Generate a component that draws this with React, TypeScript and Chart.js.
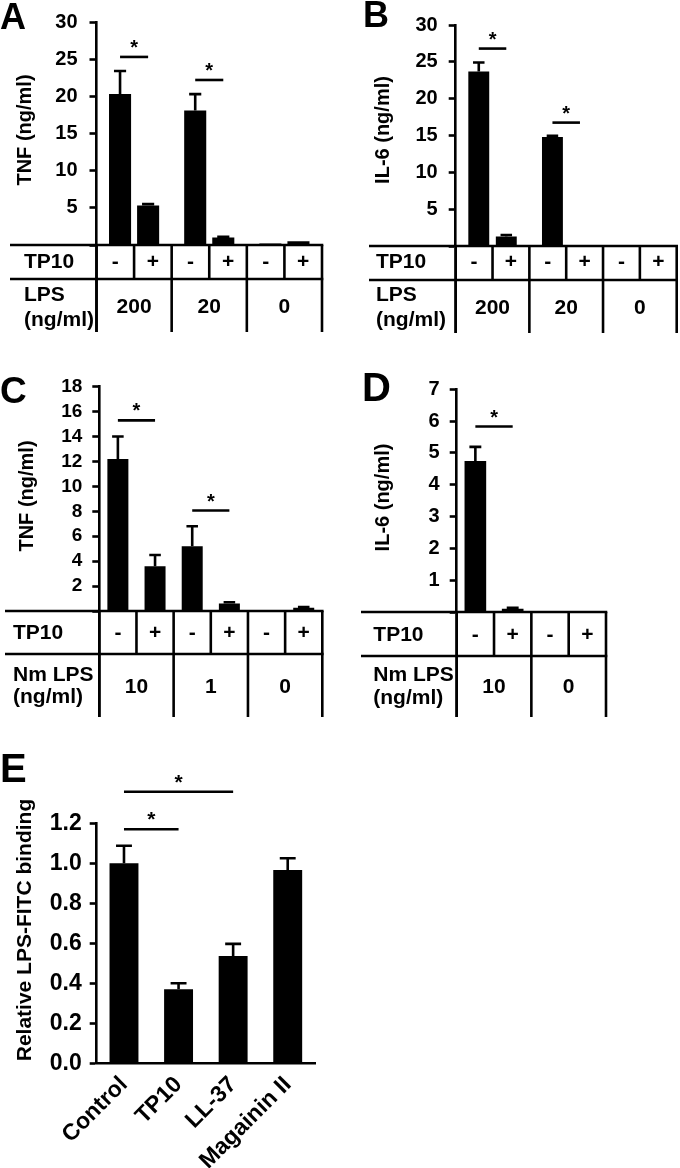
import React, { useEffect, useRef } from 'react';
import { Chart, registerables } from 'chart.js';

Chart.register(...registerables);

const FONT = '"Liberation Sans", Arial, Helvetica, sans-serif';
const LW = 2.6;
const TABLE_FONT = 21;
const bold = (size: number) => `bold ${size}px ${FONT}`;

// ---------------- Panel A: TNF (ng/ml), LPS 200/20/0 ----------------
const aLpsDoses = ['200', '20', '0'];
const aTNFMinusTP10 = [20.3, 18.1, 0.2];
const aTNFPlusTP10 = [5.3, 1.0, 0.5];
const aTNFMinusErr = [23.4, 20.3, null];
const aTNFPlusErr = [5.5, 1.1, null];
const aYTicks = { max: 30, step: 5 };

// ---------------- Panel B: IL-6 (ng/ml), LPS 200/20/0 ----------------
const bLpsDoses = ['200', '20', '0'];
const bIL6MinusTP10 = [23.7, 14.8, 0.05];
const bIL6PlusTP10 = [1.3, 0.1, 0.05];
const bIL6MinusErr = [24.9, 14.95, null];
const bIL6PlusErr = [1.5, null, null];
const bYTicks = { max: 30, step: 5 };

// ---------------- Panel C: TNF (ng/ml), Nm LPS 10/1/0 ----------------
const cConditions = ['10 -', '10 +', '1 -', '1 +', '0 -', '0 +'];
const cTP10Signs = ['-', '+', '-', '+', '-', '+'];
const cNmLpsDoses = ['10', '1', '0'];
const cTNF = [12.2, 3.6, 5.2, 0.6, 0.05, 0.27];
const cTNFErr = [14.0, 4.5, 6.8, 0.7, null, 0.32];
const cYTicks = { max: 18, step: 2 };

// ---------------- Panel D: IL-6 (ng/ml), Nm LPS 10/0 ----------------
const dConditions = ['10 -', '10 +', '0 -', '0 +'];
const dTP10Signs = ['-', '+', '-', '+'];
const dNmLpsDoses = ['10', '0'];
const dIL6 = [4.75, 0.1, 0, 0];
const dIL6Err = [5.19, 0.13, null, null];
const dYTicks = { max: 7, step: 1 };

// ---------------- Panel E: Relative LPS-FITC binding ----------------
const ePeptides = ['Control', 'TP10', 'LL-37', 'Magainin II'];
const eBinding = [1.0, 0.37, 0.537, 0.967];
const eBindingErr = [1.088, 0.4, 0.597, 1.025];
const eYTicks = { max: 1.2, step: 0.2 };

type Area = { L: number; R: number; T: number; B: number };
type Sig = { a: [number, number]; b: [number, number]; y: number };
type TextPos = { text: string; v: number };
type Table = {
  left: number; row1Bottom: number; bottom: number;
  full: number[]; inner: number[];
  signs: TextPos[]; signY: number;
  groups: TextPos[]; groupY: number;
  rowLabelX: number; rows: { text: string; y: number }[];
};
type Spec = {
  key: string; x: number; y: number; w: number; h: number;
  area: Area;
  labels: string[];
  datasets: { data: number[]; err: (number | null)[] }[];
  catPct: number; barPct: number;
  yMax: number; yStep: number; hideZero: boolean; decimals: number;
  tickSize: number; tickPad: number;
  letter: { text: string; x: number; y: number; size: number };
  yTitle: { text: string; x: number; y: number; size: number };
  sigs: Sig[]; starSize: number;
  table?: Table;
  xTicks?: { size: number; padding: number };
  capRatio: number;
};

const pairSigns = (groups: string[]): TextPos[] =>
  groups.flatMap((_, g) => [{ text: '-', v: g - 0.25 }, { text: '+', v: g + 0.25 }]);

const specs: Spec[] = [
  {
    key: 'A', x: 0, y: 0, w: 340, h: 340,
    area: { L: 96.5, R: 322, T: 22, B: 245 },
    labels: aLpsDoses,
    datasets: [
      { data: aTNFMinusTP10, err: aTNFMinusErr },
      { data: aTNFPlusTP10, err: aTNFPlusErr },
    ],
    catPct: 0.747, barPct: 0.786,
    yMax: aYTicks.max, yStep: aYTicks.step, hideZero: true, decimals: 0,
    tickSize: 20, tickPad: 12,
    letter: { text: 'A', x: 0, y: 29, size: 36 },
    yTitle: { text: 'TNF (ng/ml)', x: 25, y: 130, size: 20 },
    sigs: [{ a: [0, 0], b: [1, 0], y: 25.3 }, { a: [0, 1], b: [1, 1], y: 22.2 }],
    starSize: 20,
    table: {
      left: 10, row1Bottom: 279, bottom: 332,
      full: [-0.5, 0.5, 1.5, 2.5], inner: [0, 1, 2],
      signs: pairSigns(aLpsDoses), signY: 262,
      groups: aLpsDoses.map((d, g) => ({ text: d, v: g })), groupY: 307.5,
      rowLabelX: 24,
      rows: [{ text: 'TP10', y: 262 }, { text: 'LPS', y: 295 }, { text: '(ng/ml)', y: 320 }],
    },
    capRatio: 0.55,
  },
  {
    key: 'B', x: 340, y: 0, w: 340, h: 340,
    area: { L: 115.7, R: 336.7, T: 25, B: 246 },
    labels: bLpsDoses,
    datasets: [
      { data: bIL6MinusTP10, err: bIL6MinusErr },
      { data: bIL6PlusTP10, err: bIL6PlusErr },
    ],
    catPct: 0.747, barPct: 0.76,
    yMax: bYTicks.max, yStep: bYTicks.step, hideZero: true, decimals: 0,
    tickSize: 20, tickPad: 11,
    letter: { text: 'B', x: 23, y: 27, size: 36 },
    yTitle: { text: 'IL-6 (ng/ml)', x: 43, y: 130, size: 20 },
    sigs: [{ a: [0, 0], b: [1, 0], y: 26.8 }, { a: [0, 1], b: [1, 1], y: 16.75 }],
    starSize: 20,
    table: {
      left: 29, row1Bottom: 280, bottom: 333,
      full: [-0.5, 0.5, 1.5, 2.5], inner: [0, 1, 2],
      signs: pairSigns(bLpsDoses), signY: 262,
      groups: bLpsDoses.map((d, g) => ({ text: d, v: g })), groupY: 308,
      rowLabelX: 36,
      rows: [{ text: 'TP10', y: 262 }, { text: 'LPS', y: 295 }, { text: '(ng/ml)', y: 320 }],
    },
    capRatio: 0.55,
  },
  {
    key: 'C', x: 0, y: 340, w: 340, h: 400,
    area: { L: 99.3, R: 322.3, T: 46.7, B: 271 },
    labels: cConditions,
    datasets: [{ data: cTNF, err: cTNFErr }],
    catPct: 1, barPct: 0.565,
    yMax: cYTicks.max, yStep: cYTicks.step, hideZero: true, decimals: 0,
    tickSize: 19, tickPad: 10,
    letter: { text: 'C', x: 0, y: 63, size: 37 },
    yTitle: { text: 'TNF (ng/ml)', x: 27.5, y: 156, size: 20 },
    sigs: [{ a: [0, 0], b: [0, 1], y: 15.3 }, { a: [0, 2], b: [0, 3], y: 8.06 }],
    starSize: 20,
    table: {
      left: 5, row1Bottom: 314, bottom: 377,
      full: [-0.5, 1.5, 3.5, 5.5], inner: [0.5, 2.5, 4.5],
      signs: cTP10Signs.map((t, i) => ({ text: t, v: i })), signY: 293.3,
      groups: cNmLpsDoses.map((d, g) => ({ text: d, v: 2 * g + 0.5 })), groupY: 347.3,
      rowLabelX: 13,
      rows: [{ text: 'TP10', y: 293.3 }, { text: 'Nm LPS', y: 335 }, { text: '(ng/ml)', y: 357 }],
    },
    capRatio: 0.55,
  },
  {
    key: 'D', x: 340, y: 340, w: 340, h: 400,
    area: { L: 116.7, R: 266, T: 49.3, B: 272 },
    labels: dConditions,
    datasets: [{ data: dIL6, err: dIL6Err }],
    catPct: 1, barPct: 0.58,
    yMax: dYTicks.max, yStep: dYTicks.step, hideZero: true, decimals: 0,
    tickSize: 20, tickPad: 10,
    letter: { text: 'D', x: 22, y: 61, size: 40 },
    yTitle: { text: 'IL-6 (ng/ml)', x: 43, y: 157.5, size: 20 },
    sigs: [{ a: [0, 0], b: [0, 1], y: 5.83 }],
    starSize: 20,
    table: {
      left: 21, row1Bottom: 316, bottom: 377,
      full: [-0.5, 1.5, 3.5], inner: [0.5, 2.5],
      signs: dTP10Signs.map((t, i) => ({ text: t, v: i })), signY: 295,
      groups: dNmLpsDoses.map((d, g) => ({ text: d, v: 2 * g + 0.5 })), groupY: 347.3,
      rowLabelX: 33.3,
      rows: [{ text: 'TP10', y: 295 }, { text: 'Nm LPS', y: 335 }, { text: '(ng/ml)', y: 358 }],
    },
    capRatio: 0.55,
  },
  {
    key: 'E', x: 0, y: 740, w: 340, h: 428,
    area: { L: 96.7, R: 315, T: 83.3, B: 323.3 },
    labels: ePeptides,
    datasets: [{ data: eBinding, err: eBindingErr }],
    catPct: 1, barPct: 0.53,
    yMax: eYTicks.max, yStep: eYTicks.step, hideZero: false, decimals: 1,
    tickSize: 23, tickPad: 8,
    letter: { text: 'E', x: 0, y: 42, size: 40 },
    yTitle: { text: 'Relative LPS-FITC binding', x: 25, y: 190, size: 21 },
    sigs: [{ a: [0, 0], b: [0, 1], y: 1.17 }, { a: [0, 0], b: [0, 2], y: 1.358 }],
    starSize: 21,
    xTicks: { size: 23, padding: 8 },
    capRatio: 0.55,
  },
];

function hline(ctx: CanvasRenderingContext2D, x1: number, x2: number, y: number) {
  ctx.beginPath(); ctx.moveTo(x1, y); ctx.lineTo(x2, y); ctx.stroke();
}
function vline(ctx: CanvasRenderingContext2D, x: number, y1: number, y2: number) {
  ctx.beginPath(); ctx.moveTo(x, y1); ctx.lineTo(x, y2); ctx.stroke();
}

function decorPlugin(s: Spec) {
  return {
    id: 'decor' + s.key,
    afterDatasetsDraw(chart: any) {
      const ctx: CanvasRenderingContext2D = chart.ctx;
      const ys = chart.scales.y;
      ctx.save();
      ctx.strokeStyle = '#000';
      ctx.lineWidth = LW;
      s.datasets.forEach((ds, di) => {
        const meta = chart.getDatasetMeta(di);
        ds.err.forEach((e, i) => {
          if (e == null) return;
          const p = meta.data[i].getProps(['x', 'y', 'width'], true);
          const ty = ys.getPixelForValue(e);
          const half = (p.width * s.capRatio) / 2;
          ctx.beginPath();
          ctx.moveTo(p.x, p.y);
          ctx.lineTo(p.x, ty);
          ctx.moveTo(p.x - half, ty);
          ctx.lineTo(p.x + half, ty);
          ctx.stroke();
        });
      });
      ctx.restore();
    },
    afterDraw(chart: any) {
      const ctx: CanvasRenderingContext2D = chart.ctx;
      const ys = chart.scales.y;
      const xs = chart.scales.x;
      const ca = chart.chartArea;
      ctx.save();
      ctx.fillStyle = '#000';
      ctx.strokeStyle = '#000';
      ctx.lineWidth = LW;

      // significance bars
      s.sigs.forEach((sg) => {
        const xa = chart.getDatasetMeta(sg.a[0]).data[sg.a[1]].x;
        const xb = chart.getDatasetMeta(sg.b[0]).data[sg.b[1]].x;
        const yy = ys.getPixelForValue(sg.y);
        hline(ctx, xa, xb, yy);
        ctx.font = bold(s.starSize);
        ctx.textAlign = 'center';
        ctx.textBaseline = 'alphabetic';
        ctx.fillText('*', (xa + xb) / 2, yy - 3);
      });

      // table under the axis
      const t = s.table;
      if (t) {
        const px = (v: number) => xs.getPixelForValue(v);
        hline(ctx, t.left, ca.right + LW / 2, ca.bottom);
        hline(ctx, t.left, ca.right + LW / 2, t.row1Bottom);
        vline(ctx, ca.left, ca.bottom - 1, t.bottom);
        t.full.forEach((v) => vline(ctx, px(v), ca.bottom, t.bottom));
        t.inner.forEach((v) => vline(ctx, px(v), ca.bottom, t.row1Bottom));
        ctx.textBaseline = 'middle';
        ctx.font = bold(TABLE_FONT);
        ctx.textAlign = 'center';
        t.signs.forEach((sg) => ctx.fillText(sg.text, px(sg.v), t.signY));
        t.groups.forEach((g) => ctx.fillText(g.text, px(g.v), t.groupY));
        ctx.textAlign = 'left';
        t.rows.forEach((r) => ctx.fillText(r.text, t.rowLabelX, r.y));
      }

      // panel letter
      ctx.font = bold(s.letter.size);
      ctx.textAlign = 'left';
      ctx.textBaseline = 'alphabetic';
      ctx.fillText(s.letter.text, s.letter.x, s.letter.y);

      // y title
      ctx.save();
      ctx.translate(s.yTitle.x, s.yTitle.y);
      ctx.rotate(-Math.PI / 2);
      ctx.font = bold(s.yTitle.size);
      ctx.textAlign = 'center';
      ctx.textBaseline = 'middle';
      ctx.fillText(s.yTitle.text, 0, 0);
      ctx.restore();

      ctx.restore();
    },
  };
}

function buildConfig(s: Spec): any {
  const { area } = s;
  const xDisplay = !!s.xTicks;
  return {
    type: 'bar',
    data: {
      labels: s.labels,
      datasets: s.datasets.map((d) => ({
        data: d.data,
        backgroundColor: '#000',
        borderWidth: 0,
        categoryPercentage: s.catPct,
        barPercentage: s.barPct,
      })),
    },
    options: {
      responsive: false,
      maintainAspectRatio: false,
      animation: false,
      events: [],
      layout: {
        padding: {
          left: 0,
          top: area.T,
          right: s.w - area.R,
          bottom: xDisplay ? 0 : s.h - area.B,
        },
      },
      plugins: { legend: { display: false }, tooltip: { enabled: false }, title: { display: false } },
      scales: {
        x: xDisplay
          ? {
              display: true,
              afterFit: (sc: any) => { sc.height = s.h - area.B; },
              border: { display: true, color: '#000', width: LW },
              grid: { display: false, drawTicks: false },
              ticks: {
                color: '#000',
                font: { family: FONT, size: s.xTicks!.size, weight: 'bold' },
                minRotation: 45,
                maxRotation: 45,
                autoSkip: false,
                padding: s.xTicks!.padding,
              },
            }
          : { display: false },
        y: {
          min: 0,
          max: s.yMax,
          afterFit: (sc: any) => { sc.width = area.L; },
          border: { display: true, color: '#000', width: LW },
          grid: {
            display: true,
            drawOnChartArea: false,
            drawTicks: true,
            tickLength: 7,
            tickWidth: LW,
            tickColor: '#000',
            color: '#000',
          },
          ticks: {
            stepSize: s.yStep,
            autoSkip: false,
            color: '#000',
            padding: s.tickPad,
            font: { family: FONT, size: s.tickSize, weight: 'bold', lineHeight: 1 },
            callback: (v: number) =>
              s.hideZero && Math.abs(v) < 1e-9 ? '' : Number(v).toFixed(s.decimals),
          },
        },
      },
    },
    plugins: [decorPlugin(s)],
  };
}

function Panel({ spec }: { spec: Spec }) {
  const ref = useRef<HTMLCanvasElement>(null);
  useEffect(() => {
    const chart = new Chart(ref.current as HTMLCanvasElement, buildConfig(spec));
    return () => chart.destroy();
  }, [spec]);
  return (
    <canvas
      ref={ref}
      width={spec.w}
      height={spec.h}
      style={{ position: 'absolute', left: spec.x, top: spec.y, width: spec.w, height: spec.h }}
    />
  );
}

export default function App() {
  return (
    <div style={{ position: 'absolute', left: 0, top: 0, width: 680, height: 1168, background: '#fff', overflow: 'hidden' }}>
      {specs.map((s) => (
        <Panel key={s.key} spec={s} />
      ))}
    </div>
  );
}
